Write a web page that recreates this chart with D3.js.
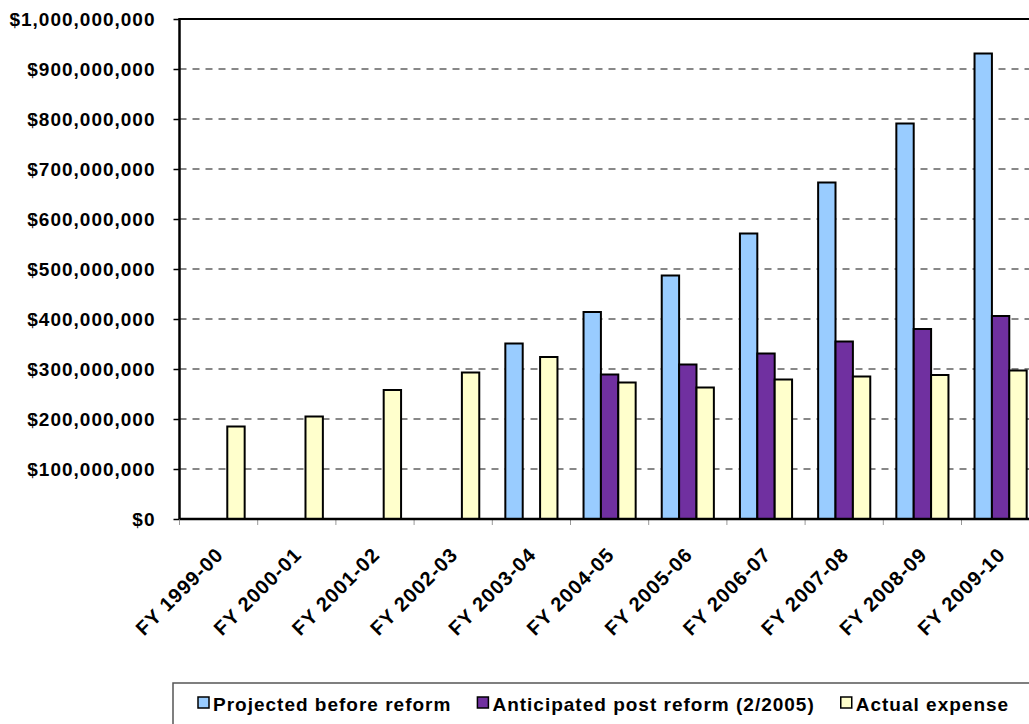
<!DOCTYPE html>
<html>
<head>
<meta charset="utf-8">
<script src="https://cdn.jsdelivr.net/npm/d3@7"></script>
<style>
  html, body { margin: 0; padding: 0; background: #fff; }
  svg { display: block; }
  text { font-family: "Liberation Sans", Arial, sans-serif; font-weight: bold; fill: #000; }
</style>
</head>
<body>
<svg id="chart" width="1029" height="724"></svg>
<script>
const categories = ["FY 1999-00","FY 2000-01","FY 2001-02","FY 2002-03","FY 2003-04","FY 2004-05","FY 2005-06","FY 2006-07","FY 2007-08","FY 2008-09","FY 2009-10"];
const seriesNames = ["Projected before reform","Anticipated post reform (2/2005)","Actual expense"];
const projected = [null,null,null,null,351000000,414000000,487000000,571000000,673000000,791000000,931000000];
const anticipated = [null,null,null,null,null,289000000,309000000,331000000,355000000,380000000,406000000];
const actual = [185000000,205000000,258000000,293000000,324000000,273000000,263000000,279000000,285000000,288000000,297000000];
const yTicks = [0,100000000,200000000,300000000,400000000,500000000,600000000,700000000,800000000,900000000,1000000000];
const colors = ["#99CCFF","#7030A0","#FFFFCC"];

(function () {
const svg = d3.select("#chart");
const pLeft = 179.5, pTop = 19, pBottom = 519, step = 78.2;
const pRight = pLeft + step * categories.length;

const x0 = d3.scaleBand().domain(categories).range([pLeft, pRight]).paddingInner(0).paddingOuter(0);
const x1 = d3.scaleBand().domain(seriesNames).range([0, x0.bandwidth()]).paddingInner(0).paddingOuter(0.75);
const y = d3.scaleLinear().domain([0, 1000000000]).range([pBottom, pTop]);
const fmt = v => "$" + d3.format(",")(v);

// gridlines
svg.append("g").selectAll("line").data(yTicks.filter(t => t > 0 && t < 1000000000)).join("line")
  .attr("x1", pLeft).attr("x2", pRight)
  .attr("y1", d => y(d)).attr("y2", d => y(d))
  .attr("stroke", "#888").attr("stroke-width", 2).attr("stroke-dasharray", "7,6");

// top border
svg.append("line").attr("x1", pLeft).attr("x2", pRight).attr("y1", pTop).attr("y2", pTop)
  .attr("stroke", "#000").attr("stroke-width", 2);

// bars
const seriesData = [projected, anticipated, actual];
seriesData.forEach((vals, si) => {
  svg.append("g").selectAll("rect")
    .data(categories.map((c, i) => ({c, v: vals[i]})).filter(d => d.v != null))
    .join("rect")
    .attr("x", d => x0(d.c) + x1(seriesNames[si]))
    .attr("width", x1.bandwidth())
    .attr("y", d => y(d.v))
    .attr("height", d => pBottom - y(d.v))
    .attr("fill", colors[si])
    .attr("stroke", "#000").attr("stroke-width", 2);
});

// y axis
const yAxis = d3.axisLeft(y).tickValues(yTicks).tickFormat(fmt).tickSize(6).tickPadding(18);
const gy = svg.append("g").attr("transform", `translate(${pLeft},0)`).call(yAxis);
gy.select(".domain").remove();
gy.selectAll(".tick line").attr("stroke", "#000").attr("stroke-width", 1.5);
gy.selectAll(".tick text").attr("font-size", 19).attr("letter-spacing", "1px")
  .attr("font-family", "Liberation Sans, Arial, sans-serif").attr("font-weight", "bold").attr("fill", "#000");
svg.append("line").attr("x1", pLeft).attr("x2", pLeft).attr("y1", pTop - 1).attr("y2", pBottom + 1)
  .attr("stroke", "#000").attr("stroke-width", 2.5);

// x axis
const gx = svg.append("g").attr("transform", `translate(0,${pBottom})`);
gx.selectAll("line.tk").data(d3.range(categories.length + 1)).join("line")
  .attr("class", "tk")
  .attr("x1", i => pLeft + i * x0.step()).attr("x2", i => pLeft + i * x0.step())
  .attr("y1", 0).attr("y2", 6).attr("stroke", "#999").attr("stroke-width", 1);
gx.append("line").attr("x1", pLeft).attr("x2", pRight).attr("y1", 0).attr("y2", 0)
  .attr("stroke", "#000").attr("stroke-width", 2.5);
gx.selectAll("text").data(categories).join("text")
  .attr("transform", d => `translate(${x0(d) + x0.bandwidth() / 2 + 6},${37}) rotate(-45)`)
  .attr("text-anchor", "end")
  .attr("font-size", 20).attr("letter-spacing", "1px")
  .text(d => d);

// legend
const lg = svg.append("g");
lg.append("rect").attr("x", 173).attr("y", 683).attr("width", 900).attr("height", 60)
  .attr("fill", "#fff").attr("stroke", "#555").attr("stroke-width", 1.5);
let lx = 198;
seriesNames.forEach((name, i) => {
  lg.append("rect").attr("x", lx).attr("y", 697).attr("width", 11).attr("height", 11)
    .attr("fill", colors[i]).attr("stroke", "#000").attr("stroke-width", 1.5);
  const t = lg.append("text").attr("x", lx + 15).attr("y", 711)
    .attr("font-size", 19).attr("letter-spacing", "1px").text(name);
  lx = lx + 15 + t.node().getComputedTextLength() + 26;
});
})();
</script>
</body>
</html>
